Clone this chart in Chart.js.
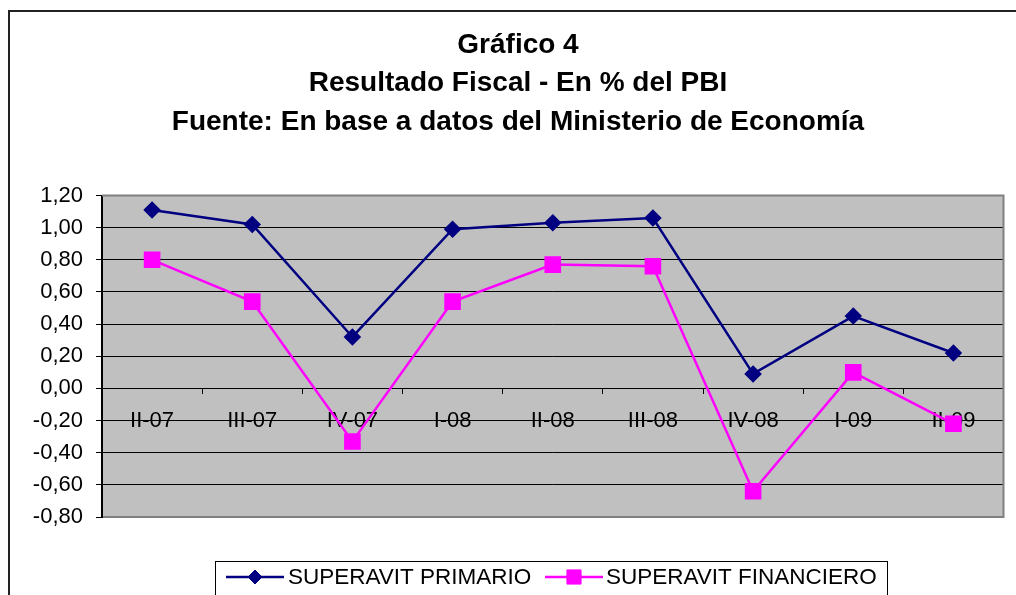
<!DOCTYPE html>
<html>
<head>
<meta charset="utf-8">
<script src="https://cdn.jsdelivr.net/npm/chart.js@4/dist/chart.umd.min.js"></script>
<style>
  html, body { margin: 0; padding: 0; background: #fff; }
  canvas { display: block; }
</style>
</head>
<body>
<canvas id="myChart" width="1016" height="595"></canvas>
<script>
// データ
const categorias = ['II-07', 'III-07', 'IV-07', 'I-08', 'II-08', 'III-08', 'IV-08', 'I-09', 'II-09'];
const superavitPrimario = [1.11, 1.02, 0.32, 0.99, 1.03, 1.06, 0.09, 0.45, 0.22];
const superavitFinanciero = [0.80, 0.54, -0.33, 0.54, 0.77, 0.76, -0.64, 0.10, -0.22];
const ejeYMin = -0.8;
const ejeYMax = 1.2;
const ejeYPaso = 0.2;
const titulo = ['Gráfico 4', 'Resultado Fiscal - En % del PBI', 'Fuente: En base a datos del Ministerio de Economía'];

const FONT = "'Liberation Sans', Arial, sans-serif";

// 外枠・プロットエリアの背景・凡例を描くプラグイン
const excelStyle = {
    id: 'excelStyle',
    beforeDraw(chart) {
        const c = chart.ctx;
        const a = chart.chartArea;
        c.save();
        c.fillStyle = '#fff';
        c.fillRect(0, 0, chart.width, chart.height);
        // 外枠
        c.strokeStyle = '#222';
        c.lineWidth = 2;
        c.strokeRect(9, 11, chart.width + 20, chart.height + 20);
        // プロットエリア
        c.fillStyle = '#c0c0c0';
        c.fillRect(a.left, a.top, a.right - a.left, a.bottom - a.top);
        c.restore();
    },
    beforeDatasetsDraw(chart) {
        const c = chart.ctx;
        const a = chart.chartArea;
        c.save();
        c.strokeStyle = '#808080';
        c.lineWidth = 2;
        c.beginPath();
        c.moveTo(a.left, a.top);
        c.lineTo(a.right, a.top);
        c.lineTo(a.right, a.bottom);
        c.lineTo(a.left + 1, a.bottom);
        c.stroke();
        c.restore();
    },
    afterDraw(chart) {
        const c = chart.ctx;
        c.save();
        // 凡例の枠
        c.strokeStyle = '#000';
        c.lineWidth = 1;
        c.strokeRect(215.5, 561.5, 672, 44);
        const items = [
            { ds: chart.data.datasets[0], x: 226, tx: 288 },
            { ds: chart.data.datasets[1], x: 545, tx: 606 }
        ];
        const y = 577;
        items.forEach(it => {
            c.strokeStyle = it.ds.borderColor;
            c.lineWidth = 2.5;
            c.beginPath();
            c.moveTo(it.x, y);
            c.lineTo(it.x + 58, y);
            c.stroke();
            c.fillStyle = it.ds.pointBackgroundColor;
            c.strokeStyle = it.ds.pointBorderColor;
            c.lineWidth = 1;
            Chart.helpers.drawPoint(c, { pointStyle: it.ds.pointStyle, radius: it.ds.pointRadius, rotation: 0, borderWidth: 1 }, it.x + 29, y);
            c.fillStyle = '#000';
            c.font = '22.5px ' + FONT;
            c.textBaseline = 'middle';
            c.textAlign = 'left';
            c.fillText(it.ds.label, it.tx, y + 1);
        });
        c.restore();
    }
};

const ctx = document.getElementById('myChart').getContext('2d');

const myChart = new Chart(ctx, {
    type: 'line',
    data: {
        labels: categorias,
        datasets: [{
            label: 'SUPERAVIT PRIMARIO',
            data: superavitPrimario,
            borderColor: '#000080',
            backgroundColor: '#000080',
            pointBackgroundColor: '#000080',
            pointBorderColor: '#000080',
            pointStyle: 'rectRot',
            pointRadius: 7,
            pointHoverRadius: 7,
            borderWidth: 2.5,
            tension: 0
        }, {
            label: 'SUPERAVIT FINANCIERO',
            data: superavitFinanciero,
            borderColor: '#ff00ff',
            backgroundColor: '#ff00ff',
            pointBackgroundColor: '#ff00ff',
            pointBorderColor: '#ff00ff',
            pointStyle: 'rect',
            pointRadius: 10,
            pointHoverRadius: 10,
            borderWidth: 2.5,
            tension: 0
        }]
    },
    options: {
        responsive: false,
        animation: false,
        layout: { padding: { left: 28, right: 8, top: 0, bottom: 78 } },
        plugins: {
            legend: { display: false },
            tooltip: { enabled: false },
            title: {
                display: true,
                text: titulo,
                color: '#000',
                font: { family: FONT, size: 28, weight: 'bold', lineHeight: 1.375 },
                padding: { top: 26, bottom: 54 }
            }
        },
        scales: {
            x: {
                position: { y: 0 },
                offset: true,
                grid: {
                    offset: true,
                    drawOnChartArea: false,
                    drawTicks: true,
                    tickLength: 5,
                    color: '#000'
                },
                border: { display: true, color: '#000', width: 1 },
                ticks: {
                    color: '#000',
                    padding: 14,
                    maxRotation: 0,
                    autoSkip: false,
                    font: { family: FONT, size: 22 }
                }
            },
            y: {
                min: ejeYMin,
                max: ejeYMax,
                afterFit(scale) { scale.width = 74; },
                grid: {
                    color: c => (c.tick && (Math.abs(c.tick.value - ejeYMax) < 1e-6 || Math.abs(c.tick.value - ejeYMin) < 1e-6)) ? '#808080' : '#000',
                    lineWidth: 1,
                    tickLength: 6,
                    tickColor: '#000'
                },
                border: { display: true, color: '#000', width: 2 },
                ticks: {
                    stepSize: ejeYPaso,
                    color: '#000',
                    padding: 13,
                    font: { family: FONT, size: 22 },
                    callback: v => (Math.abs(v) < 1e-9 ? 0 : v).toFixed(2).replace('.', ',')
                }
            }
        }
    },
    plugins: [excelStyle]
});
</script>
</body>
</html>
